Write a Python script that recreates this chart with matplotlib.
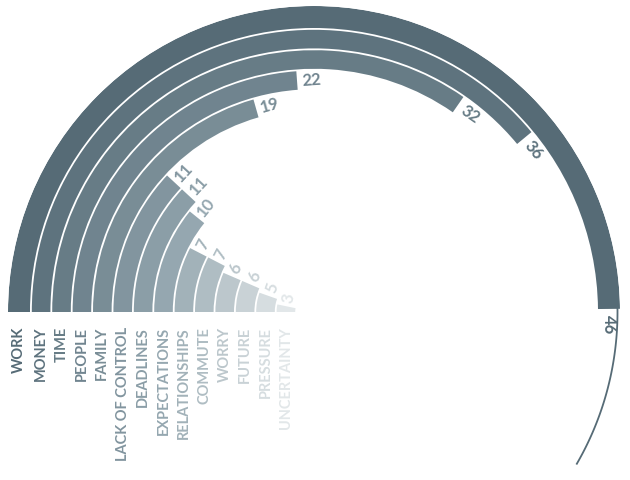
import numpy as np
import matplotlib
matplotlib.use("Agg")
import matplotlib.pyplot as plt
from matplotlib.colors import LinearSegmentedColormap
from matplotlib.transforms import offset_copy

# data
categories = ["WORK", "MONEY", "TIME", "PEOPLE", "FAMILY", "LACK OF CONTROL",
              "DEADLINES", "EXPECTATIONS", "RELATIONSHIPS", "COMMUTE", "WORRY",
              "FUTURE", "PRESSURE", "UNCERTAINTY"]
counts = [46, 36, 32, 22, 19, 11, 11, 10, 7, 7, 6, 6, 5, 3]

deg_per_unit = 3.9          # angular scale of the arcs
R = 306                     # outer radius in px
cx, cy = 314, 313           # centre of the rings, px from top-left
W, H = 630, 481

cmap = LinearSegmentedColormap.from_list("slate", ["#566b76", "#8fa2ab", "#e2e7e9"])
colors = [cmap(i / (len(counts) - 1)) for i in range(len(counts))]

fig = plt.figure(figsize=(W / 100, H / 100), dpi=100)
ax = fig.add_axes([(cx - R) / W, (H - cy - R) / H, 2 * R / W, 2 * R / H],
                  projection="polar")
ax.set_theta_zero_location("W")
ax.set_theta_direction(-1)
ax.set_ylim(0, R)
ax.axis("off")

font = dict(family=["Lato", "DejaVu Sans"], fontweight="bold")
below = offset_copy(ax.transData, fig=fig, y=-14, units="dots")

for i, (cat, v) in enumerate(zip(categories, counts)):
    inner = 284 - i * 20.4
    height = 22 if i == 0 else 18.6
    sweep = np.deg2rad(v * deg_per_unit)
    ax.bar(0, height, width=sweep, bottom=inner, align="edge",
           color=colors[i], edgecolor="none")
    rmid = inner + height / 2
    # value at the end of the arc, running along the ring
    ax.text(sweep + 5 / rmid, rmid, str(v), color=colors[i], fontsize=12,
            rotation=90 - np.rad2deg(sweep), rotation_mode="anchor",
            ha="left", va="center", **font)
    # category name below the start of the arc
    ax.text(0, rmid, cat, transform=below, rotation=90, ha="center", va="top",
            color=colors[i], fontsize=10.5, **font)

# thin guide line continuing the outer ring
t = np.linspace(np.deg2rad(175), np.deg2rad(210), 60)
ax.plot(t, np.full_like(t, 303.5), color=colors[0], lw=1.3)

fig.savefig("out.png", dpi=100)
